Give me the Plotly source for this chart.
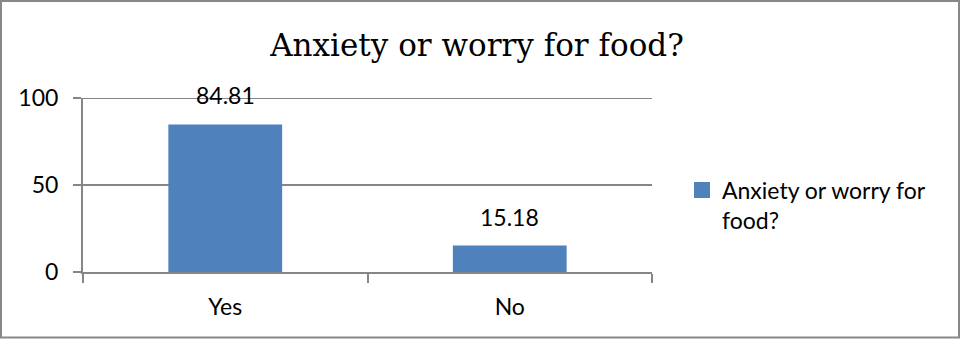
import plotly.graph_objects as go

categories = ["Yes", "No"]
values = [84.81, 15.18]
value_labels = ["84.81", "15.18"]
series_name = "Anxiety or worry for<br>food?"
title_text = "Anxiety or worry for food?"
y_ticks = [0, 50, 100]

W, H = 961, 341
ML, MR, MT, MB = 83, 309, 98, 69
pw = W - ML - MR
ph = H - MT - MB

axis_col = "#868686"
bar_col = "#4F81BD"
font_fam = "Lato, 'Open Sans', sans-serif"
fs = 23

fig = go.Figure()
fig.add_trace(go.Bar(
    x=categories, y=values, name=series_name,
    marker=dict(color=bar_col, line=dict(width=0)),
    width=0.4, showlegend=False,
))
# legend proxy with a larger square symbol
fig.add_trace(go.Scatter(
    x=[None], y=[None], mode="markers", name=series_name,
    marker=dict(symbol="square", size=16, color=bar_col), showlegend=True,
))
for c, v, t in zip(categories, values, value_labels):
    fig.add_annotation(x=c, y=v, text=t, showarrow=False, yanchor="bottom",
                       yshift=13, font=dict(size=fs, color="#000", family=font_fam))

fig.update_layout(
    width=W, height=H,
    margin=dict(l=ML, r=MR, t=MT, b=MB),
    paper_bgcolor="white", plot_bgcolor="white",
    title=dict(text=title_text, x=477 / W, xref="container", xanchor="center",
               y=1 - 45 / H, yanchor="middle", yref="container",
               font=dict(family="'DejaVu Serif', serif", size=31, color="#000")),
    showlegend=True,
    legend=dict(x=(682 - ML) / pw, xanchor="left", y=0.595, yanchor="top",
                valign="top",
                font=dict(family=font_fam, size=fs, color="#000"),
                itemwidth=30, bgcolor="rgba(0,0,0,0)"),
    xaxis=dict(type="category", showline=True, linecolor=axis_col, linewidth=2,
               ticks="outside", tickson="boundaries", ticklen=9, tickcolor=axis_col,
               tickwidth=2, showgrid=False, ticklabelstandoff=13,
               tickfont=dict(family=font_fam, size=fs, color="#000"), fixedrange=True),
    yaxis=dict(range=[0, 100], tickvals=y_ticks, showline=True, linecolor=axis_col,
               linewidth=2, ticks="outside", ticklen=8, tickcolor=axis_col, tickwidth=2,
               showgrid=True, gridcolor=axis_col, gridwidth=2, zeroline=False,
               ticklabelstandoff=10,
               tickfont=dict(family=font_fam, size=fs, color="#000")),
    shapes=[
        dict(type="line", xref="paper", yref="y", x0=0, x1=1,
             y0=y_ticks[-1], y1=y_ticks[-1], line=dict(color=axis_col, width=2), layer="below"),
        dict(type="rect", xref="paper", yref="paper",
             x0=(1 - ML) / pw, x1=(959 - ML) / pw,
             y0=-(337.5 - (MT + ph)) / ph, y1=1 + (MT - 1) / ph,
             line=dict(color="#888888", width=2), fillcolor="rgba(0,0,0,0)", layer="above"),
    ],
)

fig.write_html("out.html")
